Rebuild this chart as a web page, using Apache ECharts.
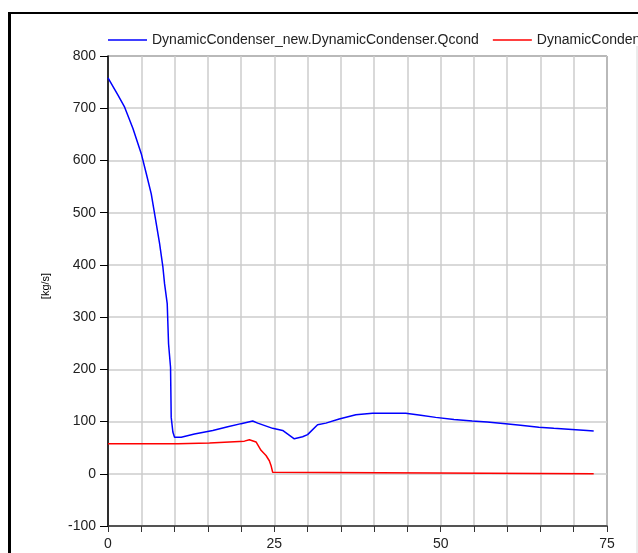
<!DOCTYPE html>
<html>
<head>
<meta charset="utf-8">
<script src="https://cdn.jsdelivr.net/npm/echarts@6/dist/echarts.min.js"></script>
<style>
  html, body { margin: 0; padding: 0; overflow: hidden; background: #fff; }
  #main { width: 1100px; height: 553px; }
</style>
</head>
<body>
<div id="main"></div>
<script>
// series names
var blueName = 'DynamicCondenser_new.DynamicCondenser.Qcond';
var redName = 'DynamicCondenser_new.DynamicCondenser.Qin';

// blue curve (time, kg/s)
var blueX = [0, 1.5, 2.5, 3.75, 5, 5.75, 6.5, 7, 7.75, 8.25, 8.5, 8.9, 9.1, 9.4, 9.5, 9.75, 10, 11, 13, 15.75, 18, 20, 21.75, 22.5, 24.75, 26.25, 28, 29.25, 30, 31.5, 32.75, 34.75, 37.25, 39.75, 42, 44.75, 47, 49.25, 52, 54.75, 57, 59.75, 62, 64.75, 67, 69.75, 72, 73];
var blueY = [758, 725, 702, 661, 613, 575, 536, 498, 441, 396, 364, 326, 249, 204, 108, 80, 70, 70, 76, 83, 90, 96, 101, 97, 87, 83, 67, 71, 75, 94, 97, 105, 113, 116, 116, 116, 112, 108, 104, 101, 99, 96, 93, 89, 87, 85, 83, 82];

// red curve
var redX = [0, 10.5, 10.75, 15.25, 15.5, 20.5, 21.25, 22.25, 23, 23.75, 24.25, 24.5, 24.75, 25, 73];
var redY = [57.5, 57.5, 59, 59, 62, 62.5, 65, 61, 45, 35, 25, 16, 3, 0, 0];

// axis labels shown
var xTickLabels = [0, 25, 50, 75];

function zip(xs, ys) {
  var out = [];
  for (var i = 0; i < xs.length; i++) out.push([xs[i], ys[i]]);
  return out;
}

var chart = echarts.init(document.getElementById('main'));

var font = 'Liberation Sans, Arial, sans-serif';

var option = {
  animation: false,
  textStyle: { fontFamily: font },
  legend: {
    left: 103,
    top: 28,
    width: 1000,
    itemWidth: 39,
    itemHeight: 1.5,
    itemGap: 14,
    icon: 'rect',
    textStyle: { fontFamily: font, fontSize: 14, color: '#222' },
    data: [blueName, redName]
  },
  grid: {
    left: 108,
    top: 56,
    right: 493,
    bottom: 27,
    show: true,
    borderColor: '#000',
    borderWidth: 1
  },
  graphic: [
    { type: 'line', shape: { x1: 9, y1: 13, x2: 1100, y2: 13 }, style: { stroke: '#000', lineWidth: 2 } },
    { type: 'line', shape: { x1: 9.5, y1: 12, x2: 9.5, y2: 553 }, style: { stroke: '#000', lineWidth: 3 } },
    { type: 'line', shape: { x1: 637, y1: 46, x2: 637, y2: 553 }, style: { stroke: '#d8d8d8', lineWidth: 1 } }
  ],
  xAxis: {
    type: 'value',
    min: 0,
    max: 75,
    interval: 5,
    axisLine: { show: true, onZero: false, lineStyle: { color: '#333', width: 1.5 } },
    axisTick: { show: true, length: 6, lineStyle: { color: '#333' } },
    axisLabel: {
      margin: 11,
      fontSize: 14,
      color: '#222',
      fontFamily: font,
      formatter: function (v) { return xTickLabels.indexOf(v) >= 0 ? String(v) : ''; }
    },
    splitLine: { show: true, lineStyle: { color: '#cdcdcd', width: 1.5 } }
  },
  yAxis: {
    type: 'value',
    min: -100,
    max: 800,
    interval: 100,
    name: '[kg/s]',
    nameLocation: 'middle',
    nameGap: 57,
    nameTextStyle: { fontSize: 11, color: '#000', fontFamily: font, padding: [0, 0, 0, 10] },
    axisLine: { show: true, lineStyle: { color: '#000', width: 1.5 } },
    axisTick: { show: true, length: 8, lineStyle: { color: '#000' } },
    axisLabel: { margin: 12, fontSize: 14, color: '#222', fontFamily: font },
    splitLine: { show: true, lineStyle: { color: '#cdcdcd', width: 1.5 } }
  },
  series: [
    {
      name: blueName,
      type: 'line',
      showSymbol: false,
      data: zip(blueX, blueY),
      lineStyle: { color: '#0000ff', width: 1.5 },
      itemStyle: { color: '#0000ff' },
      z: 3
    },
    {
      name: redName,
      type: 'line',
      showSymbol: false,
      data: zip(redX, redY),
      lineStyle: { color: '#ff0000', width: 1.5 },
      itemStyle: { color: '#ff0000' },
      z: 2
    }
  ]
};

chart.setOption(option);
</script>
</body>
</html>
